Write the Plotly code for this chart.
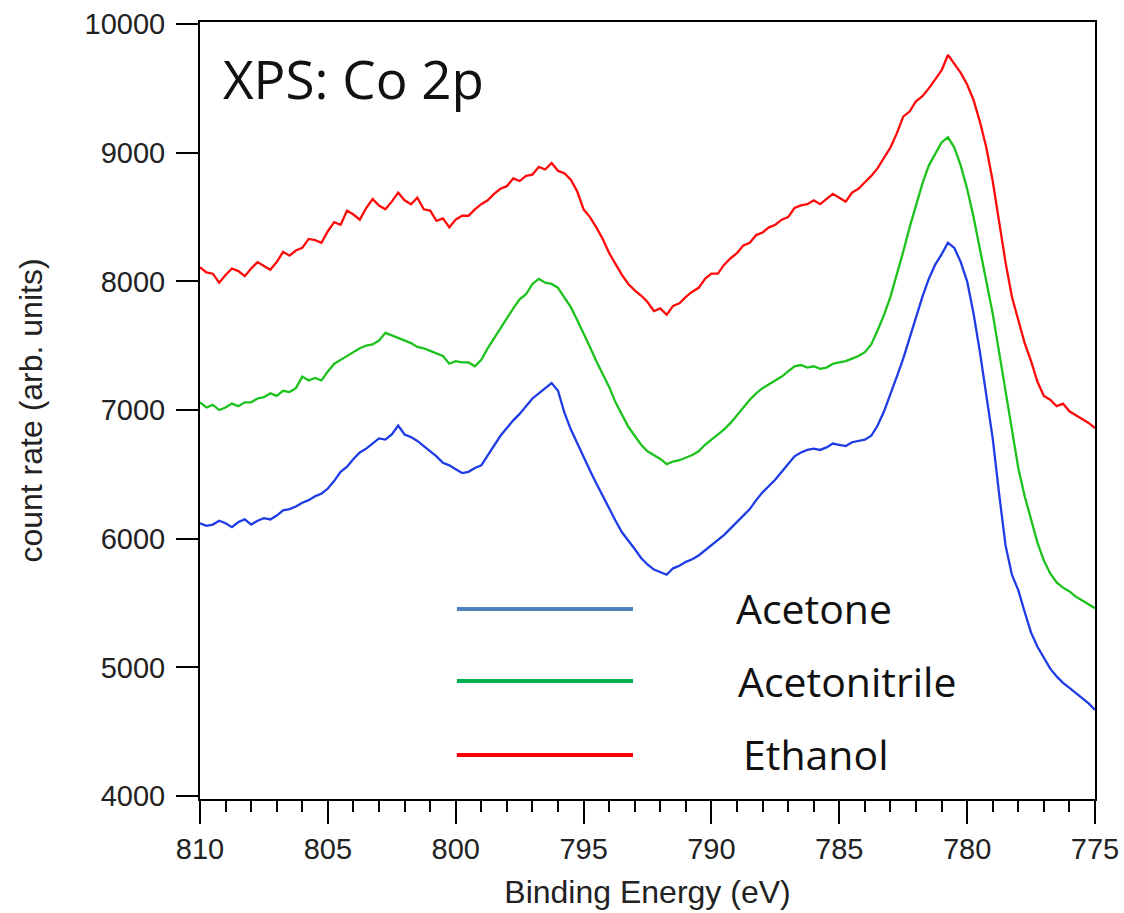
import plotly.graph_objects as go

# Binding energy grid (eV), 0.25 eV steps from 810 down to 775
energy = [810 - 0.25 * i for i in range(141)]

# Count rates (arb. units)
ethanol = [
    8110, 8070, 8060, 7990, 8050, 8100, 8080, 8040, 8100, 8150,
    8120, 8090, 8150, 8230, 8200, 8240, 8260, 8330, 8320, 8300,
    8390, 8460, 8440, 8550, 8520, 8480, 8570, 8640, 8590, 8560,
    8620, 8690, 8630, 8600, 8650, 8560, 8550, 8470, 8490, 8420,
    8480, 8510, 8510, 8560, 8600, 8630, 8680, 8720, 8740, 8800,
    8780, 8820, 8830, 8890, 8870, 8920, 8860, 8840, 8790, 8700,
    8560, 8500, 8420, 8330, 8220, 8130, 8050, 7980, 7930, 7890,
    7840, 7770, 7790, 7740, 7810, 7830, 7880, 7920, 7950, 8020,
    8060, 8060, 8130, 8180, 8220, 8280, 8300, 8360, 8380, 8420,
    8440, 8480, 8500, 8570, 8590, 8600, 8630, 8600, 8640, 8680,
    8650, 8620, 8690, 8720, 8770, 8820, 8880, 8960, 9040, 9150,
    9280, 9320, 9400, 9440, 9500, 9570, 9640, 9760, 9690, 9620,
    9530, 9410, 9240, 9040, 8780, 8450, 8150, 7880, 7700, 7520,
    7380, 7220, 7110, 7080, 7030, 7050, 6990, 6960, 6930, 6900,
    6860,
]

acetonitrile = [
    7060, 7020, 7040, 7000, 7020, 7050, 7030, 7060, 7060, 7090,
    7100, 7130, 7110, 7150, 7140, 7170, 7260, 7230, 7250, 7230,
    7300, 7360, 7390, 7420, 7450, 7480, 7500, 7510, 7540, 7600,
    7580, 7560, 7540, 7520, 7490, 7480, 7460, 7440, 7420, 7360,
    7380, 7370, 7370, 7340, 7390, 7480, 7560, 7640, 7720, 7790,
    7860, 7900, 7980, 8020, 7990, 7980, 7950, 7880, 7800, 7700,
    7600, 7490, 7380, 7280, 7180, 7060, 6960, 6870, 6800, 6730,
    6680, 6650, 6620, 6580, 6600, 6610, 6630, 6650, 6680, 6730,
    6770, 6810, 6850, 6900, 6960, 7020, 7080, 7130, 7170, 7200,
    7230, 7260, 7300, 7340, 7350, 7330, 7340, 7320, 7330, 7360,
    7370, 7380, 7400, 7420, 7450, 7510, 7620, 7740, 7880, 8050,
    8230, 8420, 8600, 8760, 8900, 8990, 9080, 9120, 9040, 8900,
    8720, 8500, 8250, 8000, 7750, 7450, 7160, 6850, 6550, 6330,
    6150, 5970, 5830, 5730, 5660, 5620, 5590, 5550, 5520, 5490,
    5460,
]

acetone = [
    6120, 6100, 6110, 6140, 6120, 6090, 6130, 6150, 6110, 6140,
    6160, 6150, 6180, 6220, 6230, 6250, 6280, 6300, 6330, 6350,
    6390, 6450, 6520, 6560, 6620, 6670, 6700, 6740, 6780, 6770,
    6810, 6880, 6810, 6790, 6760, 6720, 6680, 6640, 6590, 6570,
    6540, 6510, 6520, 6550, 6570, 6650, 6720, 6800, 6860, 6920,
    6970, 7030, 7090, 7130, 7170, 7210, 7150, 6980, 6850, 6740,
    6640, 6530, 6430, 6330, 6230, 6140, 6050, 5980, 5920, 5850,
    5800, 5760, 5740, 5720, 5770, 5790, 5820, 5840, 5870, 5910,
    5950, 5990, 6030, 6080, 6130, 6180, 6230, 6300, 6360, 6410,
    6460, 6520, 6580, 6640, 6670, 6690, 6700, 6690, 6710, 6740,
    6730, 6720, 6750, 6760, 6770, 6800, 6880, 6990, 7120, 7260,
    7400, 7560, 7720, 7880, 8020, 8130, 8210, 8300, 8260, 8150,
    8000, 7750, 7450, 7100, 6780, 6350, 5950, 5720, 5600, 5430,
    5270, 5160, 5070, 4990, 4930, 4880, 4840, 4800, 4760, 4720,
    4670,
]

series_names = ["Acetone", "Acetonitrile", "Ethanol"]
x_ticks = [810, 805, 800, 795, 790, 785, 780, 775]
y_ticks = [4000, 5000, 6000, 7000, 8000, 9000, 10000]

trace_colors = {"Acetone": "#1e3ce6", "Acetonitrile": "#1cc21c", "Ethanol": "#ff0a0a"}
legend_colors = {"Acetone": "#4f81bd", "Acetonitrile": "#00b050", "Ethanol": "#ff0000"}
values = {"Acetone": acetone, "Acetonitrile": acetonitrile, "Ethanol": ethanol}

fig = go.Figure()
for name in series_names:
    fig.add_trace(go.Scatter(
        x=energy, y=values[name], mode="lines", name=name,
        line=dict(color=trace_colors[name], width=2.3),
        showlegend=False,
    ))

# Hand-drawn style legend (lines + labels) inside the plot
legend_rows = [("Acetone", 0.2445, 0.246, 0.597),
               ("Acetonitrile", 0.1519, 0.152, 0.599),
               ("Ethanol", 0.0566, 0.058, 0.605)]
shapes = []
annotations = []
for name, ly, ty, tx in legend_rows:
    shapes.append(dict(type="line", xref="paper", yref="paper",
                       x0=0.287, x1=0.4838, y0=ly, y1=ly,
                       line=dict(color=legend_colors[name], width=4)))
    annotations.append(dict(xref="paper", yref="paper", x=tx, y=ty,
                            text=name, showarrow=False, xanchor="left",
                            yanchor="middle",
                            font=dict(family="Open Sans", size=41, color="#111111")))

annotations.append(dict(xref="paper", yref="paper", x=0.024, y=0.927,
                        text="XPS: Co 2p", showarrow=False, xanchor="left",
                        yanchor="middle",
                        font=dict(family="Open Sans", size=53, color="#111111")))

fig.update_layout(
    width=1124, height=913,
    margin=dict(l=200, r=29, t=22, b=114, autoexpand=False),
    paper_bgcolor="white", plot_bgcolor="white",
    font=dict(family="Liberation Sans", color="#222222"),
    shapes=shapes, annotations=annotations,
    showlegend=False,
)
fig.update_xaxes(
    range=[810, 775], tickvals=x_ticks, ticktext=[str(v) for v in x_ticks],
    automargin=False,
    showgrid=False, zeroline=False,
    showline=True, linecolor="black", linewidth=2, mirror=True,
    ticks="outside", ticklen=23, tickwidth=2, tickcolor="black",
    minor=dict(dtick=1, ticks="outside", ticklen=11, tickwidth=2, tickcolor="black", showgrid=False),
    tickfont=dict(family="Liberation Sans", size=29, color="#222222"),
    title=dict(text="Binding Energy (eV)", font=dict(family="Liberation Sans", size=32, color="#222222"), standoff=17),
)
fig.update_yaxes(
    range=[3977, 10016], tickvals=y_ticks, ticktext=[str(v) for v in y_ticks],
    automargin=False,
    showgrid=False, zeroline=False,
    showline=True, linecolor="black", linewidth=2, mirror=True,
    ticks="outside", ticklen=22, tickwidth=2, tickcolor="black",
    ticklabelstandoff=5,
    tickfont=dict(family="Liberation Sans", size=29, color="#222222"),
    title=dict(text="count rate (arb. units)", font=dict(family="Liberation Sans", size=32, color="#222222"), standoff=32),
)

fig.write_html("out.html", config={"displayModeBar": False},
               post_script="document.body.style.margin='0';")
